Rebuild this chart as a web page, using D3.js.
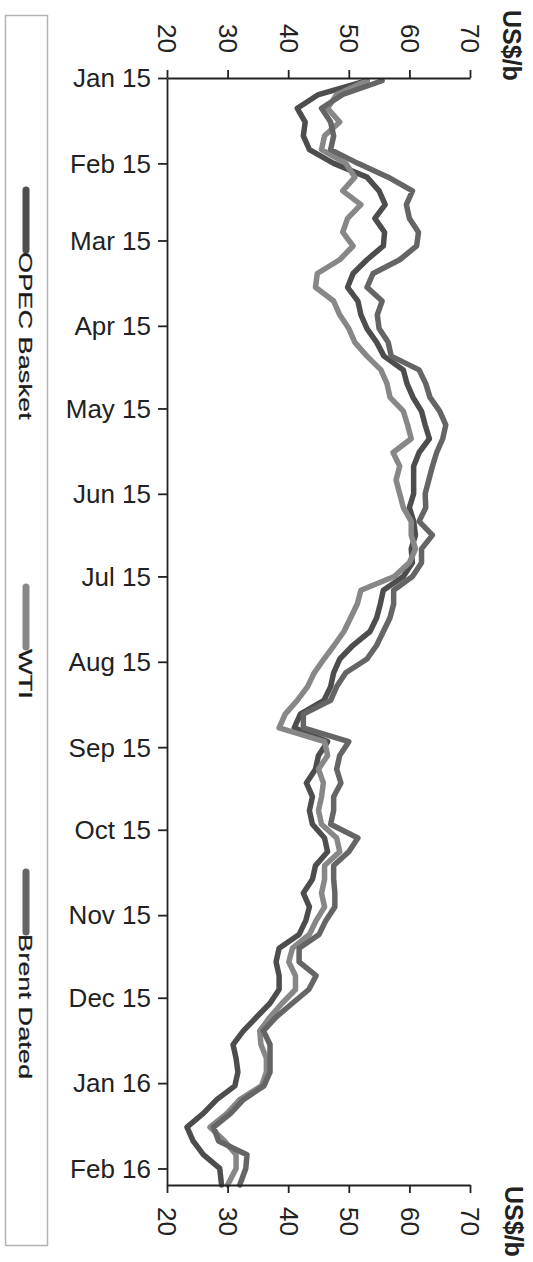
<!DOCTYPE html>
<html>
<head>
<meta charset="utf-8">
<script src="https://cdn.jsdelivr.net/npm/d3@7"></script>
<style>
  html, body { margin: 0; padding: 0; background: #fff; }
  svg { display: block; font-family: "Liberation Sans", Arial, sans-serif; }
</style>
</head>
<body>
<svg id="chart" width="533" height="1262"></svg>
<script>
const dates = [
  "2015-01-02","2015-01-07","2015-01-12","2015-01-17","2015-01-22","2015-01-27",
  "2015-02-01","2015-02-06","2015-02-11","2015-02-16","2015-02-21","2015-02-26",
  "2015-03-03","2015-03-08","2015-03-13","2015-03-18","2015-03-23","2015-03-28",
  "2015-04-02","2015-04-07","2015-04-12","2015-04-17","2015-04-22","2015-04-27",
  "2015-05-02","2015-05-07","2015-05-12","2015-05-17","2015-05-22","2015-05-27",
  "2015-06-01","2015-06-06","2015-06-11","2015-06-16","2015-06-21","2015-06-26",
  "2015-07-01","2015-07-06","2015-07-11","2015-07-16","2015-07-21","2015-07-26",
  "2015-07-31","2015-08-05","2015-08-10","2015-08-15","2015-08-20","2015-08-25",
  "2015-08-30","2015-09-04","2015-09-09","2015-09-14","2015-09-19","2015-09-24",
  "2015-09-29","2015-10-04","2015-10-09","2015-10-14","2015-10-19","2015-10-24",
  "2015-10-29","2015-11-03","2015-11-08","2015-11-13","2015-11-18","2015-11-23",
  "2015-11-28","2015-12-03","2015-12-08","2015-12-13","2015-12-18","2015-12-23",
  "2015-12-28","2016-01-02","2016-01-07","2016-01-12","2016-01-17","2016-01-22",
  "2016-01-27","2016-02-01","2016-02-07"
];
const opecBasket = [
  53, 45, 41.5, 42.8, 42.5, 43.5,
  47.5, 53, 55, 56, 54.3, 55.9,
  55.7, 53, 50.7, 49.8, 51.5, 52,
  53, 54.6, 55.8, 59, 59.6, 60.6,
  62, 62.6, 63.3, 61.6, 60.7, 60.7,
  60.7, 60, 60.7, 61, 60.3, 60.5,
  59, 55.7, 55.2, 54.6, 53.5, 50.7,
  48.5, 47.5, 47, 45.9, 42, 41,
  46.5, 45, 44.5, 43, 44, 43.5,
  44, 46, 46.5, 44.5, 44, 42.5,
  43.5, 42.9, 41.8, 38.5, 38, 38.5,
  38.5, 37, 34.8, 32.6, 30.9, 31.4,
  31.7, 31.2, 28.2, 26, 23.3, 24.3,
  26, 28.7, 29
];
const wti = [
  53, 48, 46.5, 48.5, 46, 45.5,
  49.5, 51, 49, 52, 49.8, 49,
  50.7, 48.5, 44.8, 44.5, 47.5, 48.5,
  50, 51, 53, 55.3, 56.3, 56.8,
  59, 59.7, 60.3, 57.3, 58.4, 57.8,
  58.4, 59, 60.3, 60.3, 61, 60,
  57.5, 52, 51.4, 50.3, 49.2, 47.6,
  45.9, 44.3, 43.2, 41.5, 39.5, 38.5,
  46, 46.5, 45, 45.8, 45.5, 45,
  45.5, 48, 48.5, 46, 46, 45.5,
  46, 44.6, 43.5, 40.7, 40.1, 41.2,
  41.2, 39, 37, 35.3, 35.5, 36.4,
  36.4, 35.6, 32, 29.9, 27.1, 29.5,
  31.4, 31.4, 30
];
const brentDated = [
  55.5, 49, 45.5, 47, 47.5, 47,
  51.5, 56.5, 60.5, 59.5, 60, 61.5,
  61.2, 58.4, 54, 53, 55.5, 54.7,
  55, 56.5, 57, 61.6, 62.7, 63.4,
  65, 66, 65.5, 64.5, 63.8, 63.2,
  62.6, 62.7, 61.6, 63.8, 62, 62,
  60.5, 57.4, 57.4, 56.8, 55.7, 54.6,
  53, 49.5, 48, 47, 42.5, 42.5,
  50, 48.5, 48, 48.7, 47.5, 47.5,
  47, 51.5, 50, 47.5, 47.5, 47.7,
  47.7, 46.2, 45.1, 41.8, 41.8, 44.6,
  43.4, 40.7, 38, 35.9, 37, 37,
  37, 36, 32.6, 30.5, 27.7, 28.5,
  33.2, 33, 32
];
const seriesNames = ["OPEC Basket", "WTI", "Brent Dated"];
const seriesColors = ["#4d4d4d", "#878787", "#656565"];
const valueTicks = [20, 30, 40, 50, 60, 70];
const unitLabel = "US$/b";

const parse = d3.timeParse("%Y-%m-%d");
const dateObjs = dates.map(parse);
const seriesValues = [opecBasket, wti, brentDated];

const svg = d3.select("#chart");
svg.append("rect").attr("width", 533).attr("height", 1262).attr("fill", "#fff");

const x = d3.scaleLinear().domain([20, 70]).range([167, 470]);
const y = d3.scaleTime()
  .domain([new Date(2015, 0, 1), new Date(2016, 1, 7)])
  .range([78, 1185]);

// Legend box
svg.append("rect")
  .attr("x", 5.5).attr("y", 15.5).attr("width", 42).attr("height", 1230)
  .attr("fill", "none").attr("stroke", "#b3b3b3").attr("stroke-width", 1.5);

const legendStarts = [190, 587, 872];
seriesNames.forEach((name, i) => {
  const y0 = legendStarts[i];
  svg.append("line")
    .attr("x1", 26).attr("x2", 26).attr("y1", y0).attr("y2", y0 + 60)
    .attr("stroke", seriesColors[i]).attr("stroke-width", 7)
    .attr("stroke-linecap", "round");
  svg.append("text")
    .attr("transform", `translate(19,${y0 + 62}) rotate(90) scale(1.47,1)`)
    .attr("font-size", 18.5).attr("fill", "#1a1a1a")
    .attr("stroke", "#1a1a1a").attr("stroke-width", 0.25)
    .text(name);
});

// Lines
const line = d3.line()
  .x(d => x(d[1]))
  .y(d => y(d[0]));
seriesValues.forEach((vals, i) => {
  svg.append("path")
    .datum(dateObjs.map((dt, j) => [dt, vals[j]]))
    .attr("d", line)
    .attr("fill", "none")
    .attr("stroke", seriesColors[i])
    .attr("stroke-width", 5.5)
    .attr("stroke-linejoin", "round")
    .attr("stroke-linecap", "round");
});

function styleAxis(g) {
  g.selectAll("path, line").attr("stroke", "#222").attr("stroke-width", 1.8);
  g.selectAll("text").attr("fill", "#222").attr("font-size", 26)
    .attr("font-family", "'Liberation Sans', Arial, sans-serif");
}

// Top value axis
const gTop = svg.append("g").attr("transform", "translate(0,78)")
  .call(d3.axisTop(x).tickValues(valueTicks).tickSize(8).tickSizeOuter(0));
styleAxis(gTop);
gTop.selectAll(".tick text")
  .attr("x", 0).attr("y", 0).attr("dy", "0.35em")
  .attr("text-anchor", "end")
  .attr("transform", "translate(0,-25) rotate(90)");

// Bottom value axis
const gBot = svg.append("g").attr("transform", "translate(0,1185)")
  .call(d3.axisBottom(x).tickValues(valueTicks).tickSize(8).tickSizeOuter(0));
styleAxis(gBot);
gBot.selectAll(".tick text")
  .attr("x", 0).attr("y", 0).attr("dy", "0.35em")
  .attr("text-anchor", "start")
  .attr("transform", "translate(0,22) rotate(90)");

// Left date axis
const gLeft = svg.append("g").attr("transform", "translate(167,0)")
  .call(d3.axisLeft(y).ticks(d3.timeMonth.every(1))
    .tickFormat(d3.timeFormat("%b %y")).tickSize(9).tickSizeOuter(0).tickPadding(7));
styleAxis(gLeft);
gLeft.selectAll(".tick text").attr("dy", "0.34em");

// Unit labels
svg.append("text")
  .attr("transform", "translate(503,10) rotate(90)")
  .attr("font-size", 25).attr("font-weight", "bold").attr("fill", "#222")
  .text(unitLabel);
svg.append("text")
  .attr("transform", "translate(505,1186) rotate(90)")
  .attr("font-size", 25).attr("font-weight", "bold").attr("fill", "#222")
  .text(unitLabel);
</script>
</body>
</html>
